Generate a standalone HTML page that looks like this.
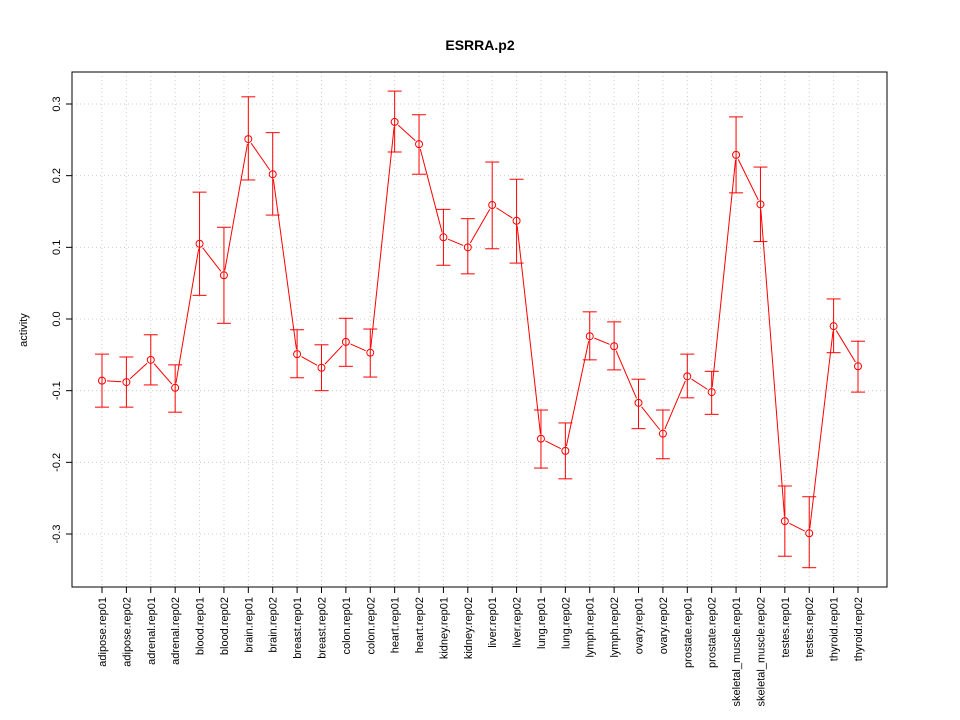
<!DOCTYPE html>
<html><head><meta charset="utf-8"><style>
body{margin:0;background:#fff}
svg{display:block;font-family:"Liberation Sans",sans-serif}
</style></head><body>
<svg id="chart" width="960" height="720">
<rect width="960" height="720" fill="#fff"/>
<text x="480" y="50" text-anchor="middle" font-size="14" font-weight="bold">ESRRA.p2</text>
<text transform="translate(27,330) rotate(-90)" text-anchor="middle" font-size="11">activity</text>
<g id="grid"></g><g id="axes"></g><g id="marks"></g>
<rect x="72" y="72" width="815" height="515" fill="none" stroke="#000"/>
</svg>
<script>
const categories=["adipose.rep01","adipose.rep02","adrenal.rep01","adrenal.rep02","blood.rep01","blood.rep02","brain.rep01","brain.rep02","breast.rep01","breast.rep02","colon.rep01","colon.rep02","heart.rep01","heart.rep02","kidney.rep01","kidney.rep02","liver.rep01","liver.rep02","lung.rep01","lung.rep02","lymph.rep01","lymph.rep02","ovary.rep01","ovary.rep02","prostate.rep01","prostate.rep02","skeletal_muscle.rep01","skeletal_muscle.rep02","testes.rep01","testes.rep02","thyroid.rep01","thyroid.rep02"];
const values=[-0.086,-0.088,-0.057,-0.096,0.105,0.061,0.251,0.202,-0.049,-0.068,-0.032,-0.047,0.275,0.244,0.114,0.100,0.159,0.137,-0.167,-0.184,-0.024,-0.038,-0.117,-0.160,-0.080,-0.102,0.229,0.160,-0.282,-0.299,-0.010,-0.066];
const upper=[-0.049,-0.053,-0.022,-0.064,0.177,0.128,0.310,0.260,-0.015,-0.036,0.001,-0.014,0.318,0.285,0.153,0.140,0.219,0.195,-0.127,-0.145,0.010,-0.004,-0.084,-0.127,-0.049,-0.073,0.282,0.212,-0.233,-0.248,0.028,-0.031];
const lower=[-0.123,-0.123,-0.092,-0.130,0.033,-0.006,0.194,0.145,-0.082,-0.100,-0.066,-0.081,0.233,0.202,0.075,0.063,0.098,0.078,-0.208,-0.223,-0.057,-0.071,-0.153,-0.195,-0.110,-0.133,0.176,0.108,-0.331,-0.347,-0.047,-0.102];
const yTicks=[-0.3,-0.2,-0.1,0.0,0.1,0.2,0.3];
const yTickLabels=["-0.3","-0.2","-0.1","0.0","0.1","0.2","0.3"];
const NS="http://www.w3.org/2000/svg";
const xs=i=>102+i*(858-102)/(categories.length-1);
const ys=v=>319-v*716.7;
function mk(parent,tag,attrs){const e=document.createElementNS(NS,tag);for(const k in attrs)e.setAttribute(k,attrs[k]);document.getElementById(parent).appendChild(e);return e;}
yTicks.forEach((t,i)=>{
  const y=ys(t);
  let g=mk("grid","line",{x1:72,x2:887,y1:y,y2:y,stroke:"#ccc","stroke-dasharray":"1,3"});
  
  
  let tk=mk("axes","line",{x1:66,x2:72,y1:y,y2:y,stroke:"#000"});
  
  
  let tx=mk("axes","text",{transform:`translate(60,${y}) rotate(-90)`,"text-anchor":"middle","font-size":11});
  tx.textContent=yTickLabels[i];
  
  
});
categories.forEach((c,i)=>{
  const x=xs(i);
  let g=mk("grid","line",{x1:x,x2:x,y1:72,y2:587,stroke:"#ccc","stroke-dasharray":"1,3"});
  
  
  let tk=mk("axes","line",{x1:x,x2:x,y1:587,y2:593,stroke:"#000"});
  
  
  let tx=mk("axes","text",{transform:`translate(${x+4},597) rotate(-90)`,"text-anchor":"end","font-size":11});
  tx.textContent=c;
  
  
});
for(let i=0;i<values.length-1;i++){
  const x1=xs(i),y1=ys(values[i]),x2=xs(i+1),y2=ys(values[i+1]);
  const d=Math.hypot(x2-x1,y2-y1),r=5;
  if(d>2*r){
    const ux=(x2-x1)/d,uy=(y2-y1)/d;
    let l=mk("marks","line",{x1:x1+ux*r,y1:y1+uy*r,x2:x2-ux*r,y2:y2-uy*r,stroke:"#f00"});
    
    
  }
}
values.forEach((v,i)=>{
  const x=xs(i);
  let e=mk("marks","line",{x1:x,x2:x,y1:ys(upper[i]),y2:ys(lower[i]),stroke:"#f00"});
  
  
  [upper[i],lower[i]].forEach(b=>{
    let c=mk("marks","line",{x1:x-7,x2:x+7,y1:ys(b),y2:ys(b),stroke:"#f00"});
    
    
  });
  let p=mk("marks","circle",{cx:x,cy:ys(v),r:3.5,fill:"none",stroke:"#f00"});
  
  
});
</script>
</body></html>
